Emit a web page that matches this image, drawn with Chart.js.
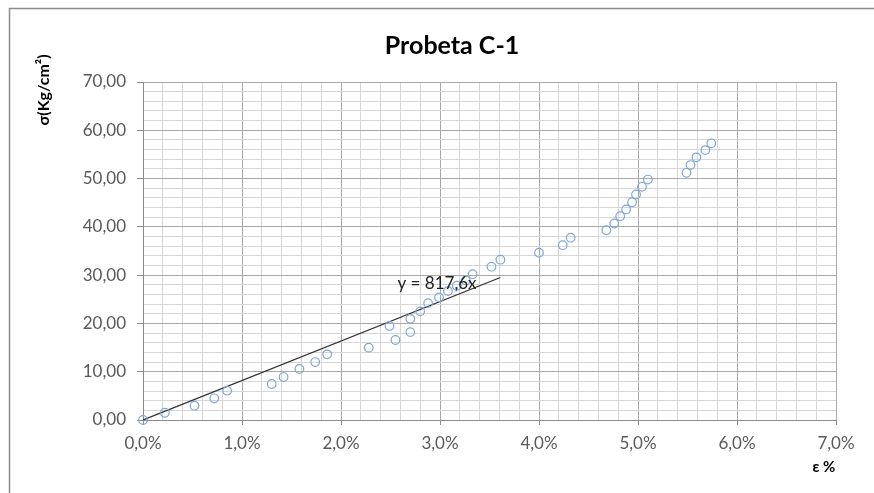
<!DOCTYPE html>
<html>
<head>
<meta charset="utf-8">
<script src="https://cdn.jsdelivr.net/npm/chart.js@4.4.1/dist/chart.umd.min.js"></script>
<style>
  html, body { margin: 0; padding: 0; background: #fff; }
  #wrap { width: 874px; height: 493px; }
</style>
</head>
<body>
<div id="wrap"><canvas id="chart" width="874" height="493"></canvas></div>
<script>
// strain (%) and stress (Kg/cm2)
const strain = [0.00, 0.22, 0.52, 0.72, 0.85, 1.30, 1.42, 1.58, 1.74, 1.86,
                2.28, 2.55, 2.70, 2.49, 2.70, 2.80, 2.88, 2.99, 3.08, 3.17,
                3.26, 3.33, 3.52, 3.61, 4.00, 4.24, 4.32, 4.68, 4.76, 4.82,
                4.88, 4.94, 4.98, 5.04, 5.10, 5.49, 5.53, 5.59, 5.68, 5.74];
const stress = [0.00, 1.50, 2.96, 4.49, 6.07, 7.46, 8.90, 10.56, 12.00, 13.60,
                14.97, 16.57, 18.20, 19.47, 20.95, 22.50, 24.20, 25.40, 26.70, 27.80,
                28.90, 30.20, 31.75, 33.20, 34.65, 36.20, 37.75, 39.30, 40.70, 42.20,
                43.60, 45.10, 46.70, 48.30, 49.80, 51.20, 52.80, 54.40, 55.90, 57.30];

// linear trendline y = 817.6x (x as fraction)
const trendSlope = 817.6;
const trendEnd = 3.61; // % where Excel stops the line
const trendLabel = 'y = 817,6x';

const chartTitle = 'Probeta C-1';
const yTitle = 'σ(Kg/cm²)';
const xTitle = 'ε %';

const points = strain.map((x, i) => ({ x: x, y: stress[i] }));
const trend = [0, trendEnd].map(x => ({ x: x, y: trendSlope * x / 100 }));

const FONT = 'Lato, "Liberation Sans", sans-serif';

const isMajorX = v => Math.abs(v - Math.round(v)) < 1e-6;
const isMajorY = v => Math.abs(v / 10 - Math.round(v / 10)) < 1e-6;

const decor = {
  id: 'decor',
  beforeDraw(chart) {
    const ctx = chart.ctx;
    ctx.save();
    ctx.fillStyle = '#fff';
    ctx.fillRect(0, 0, chart.width, chart.height);
    ctx.strokeStyle = '#8c8c8c';
    ctx.lineWidth = 1.5;
    ctx.beginPath();
    ctx.moveTo(9.5, chart.height);
    ctx.lineTo(9.5, 8.5);
    ctx.lineTo(chart.width, 8.5);
    ctx.stroke();
    ctx.restore();
  },
  afterDraw(chart) {
    const ctx = chart.ctx;
    const xs = chart.scales.x, ys = chart.scales.y;
    ctx.save();
    ctx.fillStyle = '#000';
    ctx.textAlign = 'center';
    ctx.textBaseline = 'middle';
    ctx.font = 'bold 25px ' + FONT;
    ctx.fillText(chartTitle, 452, 46);

    ctx.font = 'bold 15px ' + FONT;
    ctx.fillText(xTitle, 824, 467);

    ctx.save();
    ctx.translate(44, 90);
    ctx.rotate(-Math.PI / 2);
    ctx.font = 'bold 16px ' + FONT;
    ctx.fillText(yTitle, 0, 0);
    ctx.restore();

    ctx.font = '17px ' + FONT;
    ctx.fillStyle = '#222';
    ctx.fillText(trendLabel, xs.getPixelForValue(2.97), ys.getPixelForValue(28.3));
    ctx.restore();
  }
};

new Chart(document.getElementById('chart'), {
  type: 'scatter',
  data: {
    datasets: [{
      label: 'data',
      data: points,
      showLine: false,
      clip: false,
      pointStyle: 'circle',
      pointRadius: 4.3,
      pointBorderWidth: 1.2,
      borderColor: '#7fa6d6',
      backgroundColor: 'rgba(255,255,255,0)',
      order: 1
    }, {
      label: 'trend',
      data: trend,
      showLine: true,
      pointRadius: 0,
      borderColor: '#333',
      borderWidth: 1.3,
      fill: false,
      order: 2
    }]
  },
  options: {
    responsive: false,
    animation: false,
    layout: { padding: { left: 0, top: 82, right: 38, bottom: 0 } },
    plugins: { legend: { display: false }, tooltip: { enabled: false } },
    scales: {
      x: {
        type: 'linear',
        min: 0, max: 7,
        afterFit: s => { s.height = 73; },
        afterBuildTicks: s => {
          s.ticks = [];
          for (let i = 0; i <= 35; i++) s.ticks.push({ value: i * 0.2 });
        },
        border: { color: '#8c8c8c', width: 1 },
        grid: {
          color: c => isMajorX(c.tick.value) ? '#a8a8a8' : '#d6d6d6',
          tickColor: c => isMajorX(c.tick.value) ? '#8c8c8c' : 'rgba(0,0,0,0)',
          tickLength: 5,
          lineWidth: 1
        },
        ticks: {
          autoSkip: false,
          maxRotation: 0,
          padding: 8,
          color: '#595959',
          font: { family: FONT, size: 17 },
          callback: v => isMajorX(v) ? v.toFixed(1).replace('.', ',') + '%' : ''
        }
      },
      y: {
        type: 'linear',
        min: 0, max: 70,
        afterFit: s => { s.width = 143; },
        afterBuildTicks: s => {
          s.ticks = [];
          for (let i = 0; i <= 35; i++) s.ticks.push({ value: i * 2 });
        },
        border: { color: '#8c8c8c', width: 1 },
        grid: {
          color: c => isMajorY(c.tick.value) ? '#a8a8a8' : '#d6d6d6',
          tickColor: c => isMajorY(c.tick.value) ? '#8c8c8c' : 'rgba(0,0,0,0)',
          tickLength: 6,
          lineWidth: 1
        },
        ticks: {
          autoSkip: false,
          padding: 11,
          color: '#595959',
          font: { family: FONT, size: 17 },
          callback: v => isMajorY(v) ? v.toFixed(2).replace('.', ',') : ''
        }
      }
    }
  },
  plugins: [decor]
});
</script>
</body>
</html>
